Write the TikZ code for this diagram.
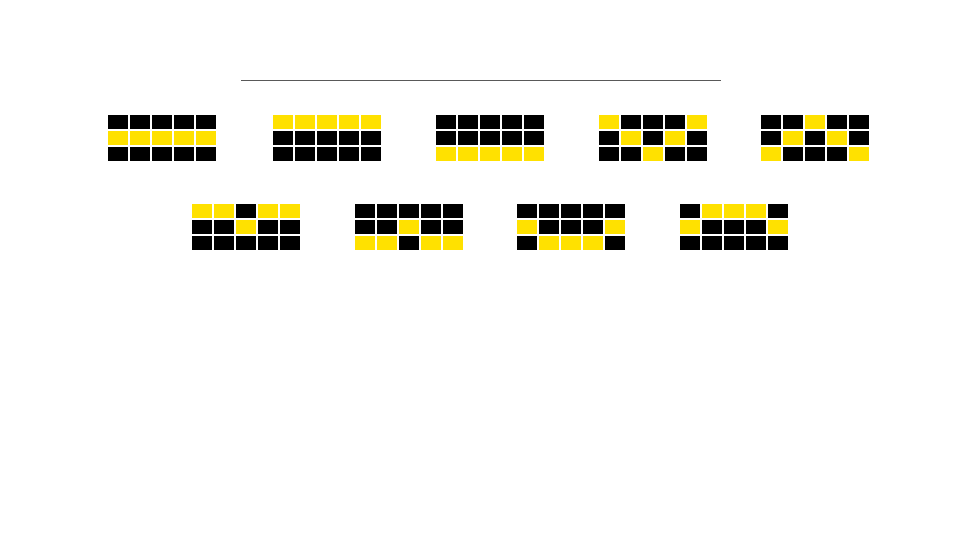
\documentclass[tikz,border=0pt]{standalone}
\definecolor{ylw}{HTML}{FFE100}
\definecolor{rule}{HTML}{595959}
\tikzset{
  cellB/.style={fill=black},
  cellY/.style={fill=ylw},
  ruleline/.style={draw=rule,line width=1pt}
}
\newcommand\cellgrid[3]{%
  \foreach \c [count=\i from 0] in {#3} {%
    \pgfmathtruncatemacro\col{mod(\i,5)}%
    \pgfmathtruncatemacro\row{int(\i/5)}%
    \fill[cell\c] ({#1+22*\col},{#2+16*\row}) rectangle ++(20,14);
  }%
}
\begin{document}
\begin{tikzpicture}[x=1pt,y=-1pt]
\useasboundingbox (0,0) rectangle (960,540);
\fill[white] (0,0) rectangle (960,540);
\coordinate (l1) at (241,80.5);
\coordinate (l2) at (721,80.5);
\draw[ruleline] (l1) -- (l2);
% row 1
\cellgrid{108}{115}{B,B,B,B,B, Y,Y,Y,Y,Y, B,B,B,B,B}
\cellgrid{273}{115}{Y,Y,Y,Y,Y, B,B,B,B,B, B,B,B,B,B}
\cellgrid{436}{115}{B,B,B,B,B, B,B,B,B,B, Y,Y,Y,Y,Y}
\cellgrid{599}{115}{Y,B,B,B,Y, B,Y,B,Y,B, B,B,Y,B,B}
\cellgrid{761}{115}{B,B,Y,B,B, B,Y,B,Y,B, Y,B,B,B,Y}
% row 2
\cellgrid{192}{204}{Y,Y,B,Y,Y, B,B,Y,B,B, B,B,B,B,B}
\cellgrid{355}{204}{B,B,B,B,B, B,B,Y,B,B, Y,Y,B,Y,Y}
\cellgrid{517}{204}{B,B,B,B,B, Y,B,B,B,Y, B,Y,Y,Y,B}
\cellgrid{680}{204}{B,Y,Y,Y,B, Y,B,B,B,Y, B,B,B,B,B}
\end{tikzpicture}
\end{document}
